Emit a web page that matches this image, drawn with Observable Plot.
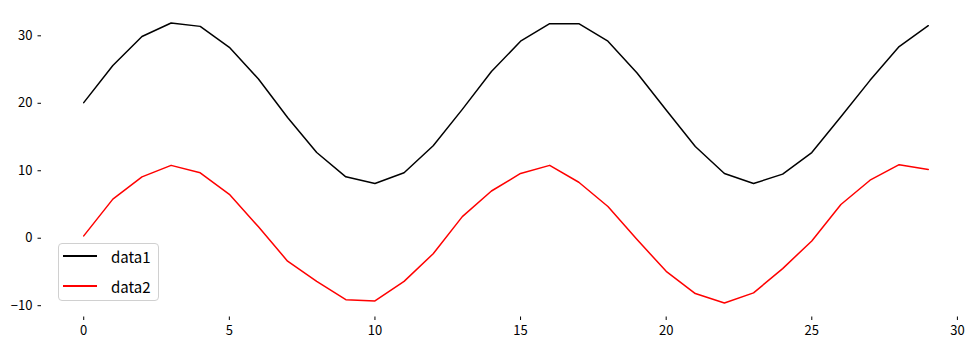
<!DOCTYPE html>
<html>
<head>
<meta charset="utf-8">
<script src="https://cdn.jsdelivr.net/npm/d3@7"></script>
<script src="https://cdn.jsdelivr.net/npm/@observablehq/plot@0.6"></script>
<style>
  body { margin: 0; background: #fff; }
  #wrap { position: relative; width: 980px; height: 350px; }
  .legend {
    position: absolute; left: 58px; top: 243px; width: 99px; height: 56px;
    border: 1px solid #d0d0d0; border-radius: 4px; background: rgba(255,255,255,0.8);
    font-family: "Noto Sans CJK JP", sans-serif; font-size: 15px; color: #000;
  }
  .item { position: absolute; left: 4px; height: 20px; display: flex; align-items: center; }
  .swatch { width: 34px; height: 1.6px; margin-right: 14px; }
</style>
</head>
<body>
<div id="wrap"></div>
<script>
const xs = d3.range(30);
const data1 = [20.1, 25.6, 29.9, 31.9, 31.4, 28.3, 23.6, 17.9, 12.7, 9.1,
               8.1, 9.7, 13.7, 19.1, 24.7, 29.2, 31.8, 31.8, 29.2, 24.5,
               19.0, 13.6, 9.6, 8.1, 9.5, 12.7, 18.0, 23.4, 28.4, 31.5];
const data2 = [0.35, 5.8, 9.1, 10.8, 9.7, 6.5, 1.7, -3.4, -6.4, -9.1,
               -9.3, -6.4, -2.3, 3.2, 7.0, 9.6, 10.8, 8.3, 4.7, -0.2,
               -4.9, -8.2, -9.6, -8.1, -4.5, -0.4, 5.0, 8.6, 10.9, 10.2];
const seriesNames = ["data1", "data2"];
const seriesColors = ["#000000", "#ff0000"];
const xTicks = [0, 5, 10, 15, 20, 25, 30];
const yTicks = [-10, 0, 10, 20, 30];

const rows = [];
[data1, data2].forEach((vals, s) => vals.forEach((v, i) => rows.push({x: xs[i], y: v, series: seriesNames[s]})));

const allY = data1.concat(data2);
const yMin = d3.min(allY), yMax = d3.max(allY);
const yPad = (yMax - yMin) * 0.05;
const xPad = (d3.max(xs) - d3.min(xs)) * 0.05;

const font = '"Noto Sans CJK JP", sans-serif';

const chart = Plot.plot({
  width: 980,
  height: 350,
  marginLeft: 41,
  marginRight: 10,
  marginTop: 8.5,
  marginBottom: 33.5,
  style: {fontFamily: font, fontSize: "13px", color: "#000", background: "#fff"},
  x: {domain: [d3.min(xs) - xPad, d3.max(xs) + xPad], ticks: xTicks, tickSize: 3.5, tickPadding: 5, label: null},
  y: {domain: [yMin - yPad, yMax + yPad], ticks: yTicks, tickSize: 3.5, tickPadding: 5.5, label: null},
  color: {domain: seriesNames, range: seriesColors},
  marks: [
    Plot.line(rows, {x: "x", y: "y", z: "series", stroke: "series", strokeWidth: 1.5})
  ]
});
const wrap = document.getElementById("wrap");
wrap.appendChild(chart);

const legend = document.createElement("div");
legend.className = "legend";
seriesNames.forEach((name, i) => {
  const item = document.createElement("div");
  item.className = "item";
  item.style.top = (2 + i * 30) + "px";
  const sw = document.createElement("div");
  sw.className = "swatch";
  sw.style.background = seriesColors[i];
  const label = document.createElement("span");
  label.textContent = name;
  item.appendChild(sw);
  item.appendChild(label);
  legend.appendChild(item);
});
wrap.appendChild(legend);
</script>
</body>
</html>
